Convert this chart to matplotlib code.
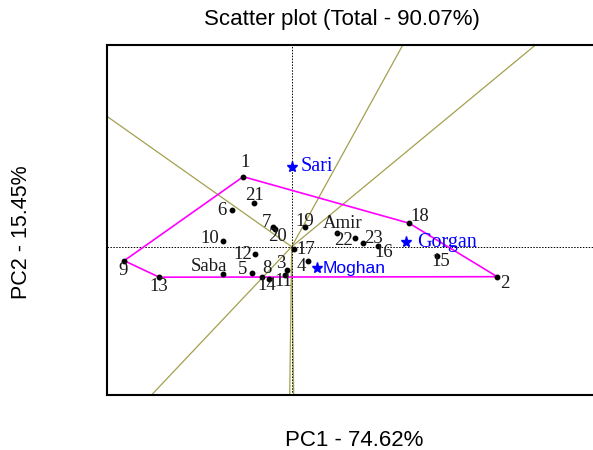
import matplotlib
matplotlib.use("Agg")
import matplotlib.pyplot as plt
import numpy as np

# genotype scores (PC1, PC2)
genotypes = ['1', '2', '3', '4', '5', '6', '7', '8', '9', '10', '11', '12',
             '13', '14', '15', '16', '17', '18', '19', '20', '21', '22', '23',
             'Saba', 'Amir']
pc1 = [-0.97, 4.11, -0.10, 0.33, -0.79, -1.20, -0.37, -0.59, -3.35, -1.38, -0.13, -0.73,
       -2.65, -0.45, 2.91, 1.72, 0.05, 2.35, 0.27, -0.34, -0.75, 1.27, 1.43,
       -1.38, 0.91]
pc2 = [1.40, -0.60, -0.47, -0.28, -0.52, 0.73, 0.40, -0.60, -0.28, 0.12, -0.57, -0.15,
       -0.61, -0.64, -0.19, 0.02, -0.05, 0.47, 0.39, 0.35, 0.87, 0.18, 0.08,
       -0.55, 0.28]

# environment scores
envs = ['Sari', 'Moghan', 'Gorgan']
env_pc1 = [0.00, 0.50, 2.29]
env_pc2 = [1.60, -0.43, 0.09]

# polygon vertices (genotype labels)
hull = ['1', '18', '2', '13', '9', '1']

# ray directions from origin
rays = [(-3.67, 2.59), (2.22, 4.03), (4.87, 4.03), (-2.77, -2.93),
        (-0.04, -2.97), (0.04, -2.97)]

# label offsets in pixels
offs = {'1': (2, 14), '2': (8, -7), '3': (-6, 7), '4': (-7, -6), '5': (-10, 3),
        '6': (-10, 0), '7': (-7, 4), '8': (5, 8), '9': (-1, -10), '10': (-13, 2),
        '11': (-2, -6), '12': (-12, 0), '13': (0, -9), '14': (-2, -7), '15': (4, -5),
        '16': (6, -7), '17': (12, 0), '18': (11, 7), '19': (0, 6), '20': (3, -7),
        '21': (0, 8), '22': (-12, -3), '23': (10, 4), 'Saba': (-14, 8), 'Amir': (5, 9)}
env_offs = {'Sari': 9, 'Moghan': 6, 'Gorgan': 11}

fig = plt.figure(figsize=(5.93, 4.5), dpi=100)
ax = fig.add_axes([107/593, 55/450, 513/593, 350/450])
xmin, xmax = -3.694, 6.566
ymin, ymax = -2.966, 4.034

olive = '#a3a04e'
for dx, dy in rays:
    ax.plot([0, dx * 5], [0, dy * 5], color=olive, lw=0.9, zorder=1)

ax.axhline(0, color='black', ls=(0, (1.5, 1.5)), lw=0.7, zorder=1)
ax.axvline(0, color='black', ls=(0, (1.5, 1.5)), lw=0.7, zorder=1)

idx = {g: i for i, g in enumerate(genotypes)}
hx = [pc1[idx[g]] for g in hull]
hy = [pc2[idx[g]] for g in hull]
ax.plot(hx, hy, color='#ff00ff', lw=1.2, zorder=2)

ax.plot(pc1, pc2, 'o', color='black', ms=3.2, zorder=3)
for g, x, y in zip(genotypes, pc1, pc2):
    ax.annotate(g, (x, y), xytext=offs[g], textcoords='offset pixels',
                ha='center', va='center', fontsize=13.5,
                family='Liberation Serif', color='#1a1a1a', zorder=4)

ax.plot(env_pc1, env_pc2, '*', color='#0000ff', ms=8, zorder=3)
for e, x, y in zip(envs, env_pc1, env_pc2):
    fam = 'Liberation Sans' if e == 'Moghan' else 'Liberation Serif'
    fs = 12.5 if e == 'Moghan' else 14.5
    ax.annotate(e, (x, y), xytext=(env_offs[e], 0), textcoords='offset pixels',
                ha='left', va='center', fontsize=fs, family=fam,
                color='#0000ff', zorder=4)

ax.set_xlim(xmin, xmax)
ax.set_ylim(ymin, ymax)
ax.set_xticks([])
ax.set_yticks([])
for s in ax.spines.values():
    s.set_linewidth(1.5)

fig.text(342/593, 1 - 20/450, 'Scatter plot (Total - 90.07%)', ha='center', va='center',
         fontsize=16, family='Liberation Sans')
fig.text(354/593, 1 - 440/450, 'PC1 - 74.62%', ha='center', va='center',
         fontsize=16, family='Liberation Sans')
fig.text(22/593, 1 - 232/450, 'PC2 - 15.45%', ha='center', va='center', rotation=90,
         fontsize=15.5, family='Liberation Sans')

fig.savefig('out.png', dpi=100)
